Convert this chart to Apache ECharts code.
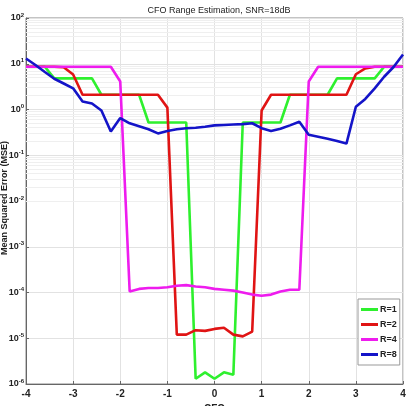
<!DOCTYPE html>
<html>
<head>
<meta charset="utf-8">
<script src="https://cdn.jsdelivr.net/npm/echarts@6/dist/echarts.min.js"></script>
<style>
  html, body { margin: 0; padding: 0; background: #fff; }
  #chart { width: 408px; height: 406px; }
</style>
</head>
<body>
<div id="chart"></div>
<script>
// CFO offsets (x), one value per sample
var cfo = [-4, -3.8, -3.6, -3.4, -3.2, -3, -2.8, -2.6, -2.4, -2.2, -2, -1.8, -1.6, -1.4, -1.2, -1, -0.8, -0.6, -0.4, -0.2,
  0, 0.2, 0.4, 0.6, 0.8, 1, 1.2, 1.4, 1.6, 1.8, 2, 2.2, 2.4, 2.6, 2.8, 3, 3.2, 3.4, 3.6, 3.8, 4];

var mseR1 = [8.6, 8.6, 8.6, 4.8, 4.8, 4.8, 4.8, 4.8, 2.1, 2.1, 2.1, 2.1, 2.1, 0.52, 0.52, 0.52, 0.52, 0.52, 1.3e-6, 1.8e-6,
  1.3e-6, 1.8e-6, 1.6e-6, 0.52, 0.52, 0.52, 0.52, 0.52, 2.1, 2.1, 2.1, 2.1, 2.1, 4.8, 4.8, 4.8, 4.8, 4.8, 8.6, 8.6, 8.6];

var mseR2 = [8.6, 8.6, 8.6, 8.6, 8.4, 5.8, 2.1, 2.1, 2.1, 2.1, 2.1, 2.1, 2.1, 2.1, 2.1, 1.1, 1.2e-5, 1.2e-5, 1.5e-5, 1.45e-5,
  1.6e-5, 1.7e-5, 1.2e-5, 1.1e-5, 1.4e-5, 0.95, 2.1, 2.1, 2.1, 2.1, 2.1, 2.1, 2.1, 2.1, 2.1, 5.9, 7.9, 8.6, 8.6, 8.6, 8.6];

var mseR4 = [8.6, 8.6, 8.6, 8.6, 8.6, 8.6, 8.6, 8.6, 8.6, 8.6, 4.1, 1.05e-4, 1.2e-4, 1.25e-4, 1.25e-4, 1.3e-4, 1.4e-4, 1.45e-4, 1.35e-4, 1.3e-4,
  1.2e-4, 1.15e-4, 1.1e-4, 1.0e-4, 9e-5, 8.5e-5, 9e-5, 1.05e-4, 1.15e-4, 1.15e-4, 4.1, 8.6, 8.6, 8.6, 8.6, 8.6, 8.6, 8.6, 8.6, 8.6, 8.6];

var mseR8 = [13, 9.4, 6.6, 4.7, 3.7, 2.9, 1.5, 1.35, 0.95, 0.33, 0.65, 0.5, 0.43, 0.37, 0.3, 0.34, 0.37, 0.39, 0.4, 0.42,
  0.45, 0.46, 0.47, 0.48, 0.5, 0.39, 0.34, 0.38, 0.45, 0.54, 0.28, 0.255, 0.23, 0.205, 0.18, 1.15, 1.7, 2.9, 5.2, 8.5, 16];

var names = ['R=1', 'R=2', 'R=4', 'R=8'];
var colors = ['#2ef02e', '#e01414', '#ee1cee', '#1414c8'];
var xTicks = [-4, -3, -2, -1, 0, 1, 2, 3, 4];
var decades = [1e-6, 1e-5, 1e-4, 1e-3, 1e-2, 1e-1, 1, 10, 100];

function pairs(ys) {
  return cfo.map(function (x, i) { return [x, ys[i]]; });
}

// minor log grid lines (2..9 per decade)
var minorLines = [];
for (var d = 0; d < decades.length - 1; d++) {
  for (var m = 2; m <= 9; m++) {
    minorLines.push({ yAxis: decades[d] * m });
  }
}

var chart = echarts.init(document.getElementById('chart'));

var seriesList = [mseR1, mseR2, mseR4, mseR8].map(function (ys, i) {
  return {
    name: names[i],
    type: 'line',
    data: pairs(ys),
    symbol: 'none',
    z: 3,
    lineStyle: { color: colors[i], width: 2.6 },
    itemStyle: { color: colors[i] }
  };
});

seriesList.unshift({
  name: 'grid',
  type: 'line',
  data: [],
  silent: true,
  z: 1,
  markLine: {
    z: 1,
    silent: true,
    symbol: 'none',
    label: { show: false },
    lineStyle: { color: '#efefef', width: 1, type: 'solid' },
    data: minorLines,
    animation: false
  }
});

chart.setOption({
  animation: false,
  backgroundColor: '#fff',
  title: {
    text: 'CFO Range Estimation, SNR=18dB',
    left: 214,
    top: 1,
    textAlign: 'center',
    textStyle: { fontFamily: 'Liberation Sans', fontSize: 9, fontWeight: 'normal', color: '#222' }
  },
  grid: { left: 26, right: 5, top: 18, bottom: 22, outerBoundsMode: 'none', show: true, borderColor: '#888', borderWidth: 1 },
  legend: {
    data: names,
    orient: 'vertical',
    left: 358,
    top: 299,
    itemWidth: 17,
    itemHeight: 3,
    itemGap: 6,
    padding: [6, 3, 6, 3],
    backgroundColor: '#fff',
    borderColor: '#999',
    borderWidth: 1,
    icon: 'rect',
    textStyle: { fontFamily: 'Liberation Sans', fontSize: 9, fontWeight: 'bold', color: '#222', padding: [0, 0, 0, -3] }
  },
  xAxis: {
    type: 'value',
    min: -4,
    max: 4,
    interval: 1,
    name: 'CFO',
    nameLocation: 'middle',
    nameGap: 19,
    nameTextStyle: { fontFamily: 'Liberation Sans', fontSize: 10, fontWeight: 'bold', color: '#222' },
    axisLine: { onZero: false, lineStyle: { color: '#666' } },
    axisTick: { inside: true, length: 3, lineStyle: { color: '#666' } },
    axisLabel: {
      margin: 5,
      fontFamily: 'Liberation Sans', fontSize: 10, fontWeight: 'bold', color: '#222',
      formatter: function (v) { return xTicks.indexOf(v) >= 0 ? String(v) : ''; }
    },
    splitLine: { show: true, lineStyle: { color: '#e2e2e2', width: 1 } }
  },
  yAxis: {
    type: 'log',
    logBase: 10,
    min: 1e-6,
    max: 100,
    axisLine: { onZero: false, lineStyle: { color: '#666' } },
    axisTick: { inside: true, length: 3, lineStyle: { color: '#666' } },
    axisLabel: {
      margin: 2,
      fontFamily: 'Liberation Sans', fontSize: 9, fontWeight: 'bold', color: '#222',
      formatter: function (v) {
        var e = Math.round(Math.log(v) / Math.LN10);
        return '10{sup|' + e + '}';
      },
      rich: {
        sup: { fontSize: 6, fontWeight: 'bold', fontFamily: 'Liberation Sans', color: '#222', verticalAlign: 'top', padding: [0, 0, 6, 0] }
      }
    },
    splitLine: { show: true, lineStyle: { color: '#e2e2e2', width: 1 } }
  },
  graphic: [{
    type: 'text',
    x: 4.5,
    y: 198,
    rotation: Math.PI / 2,
    style: {
      text: 'Mean Squared Error (MSE)',
      fontFamily: 'Liberation Sans',
      fontSize: 9,
      fontWeight: 'bold',
      fill: '#222',
      align: 'center',
      verticalAlign: 'middle'
    }
  }],
  series: seriesList
});
</script>
</body>
</html>
